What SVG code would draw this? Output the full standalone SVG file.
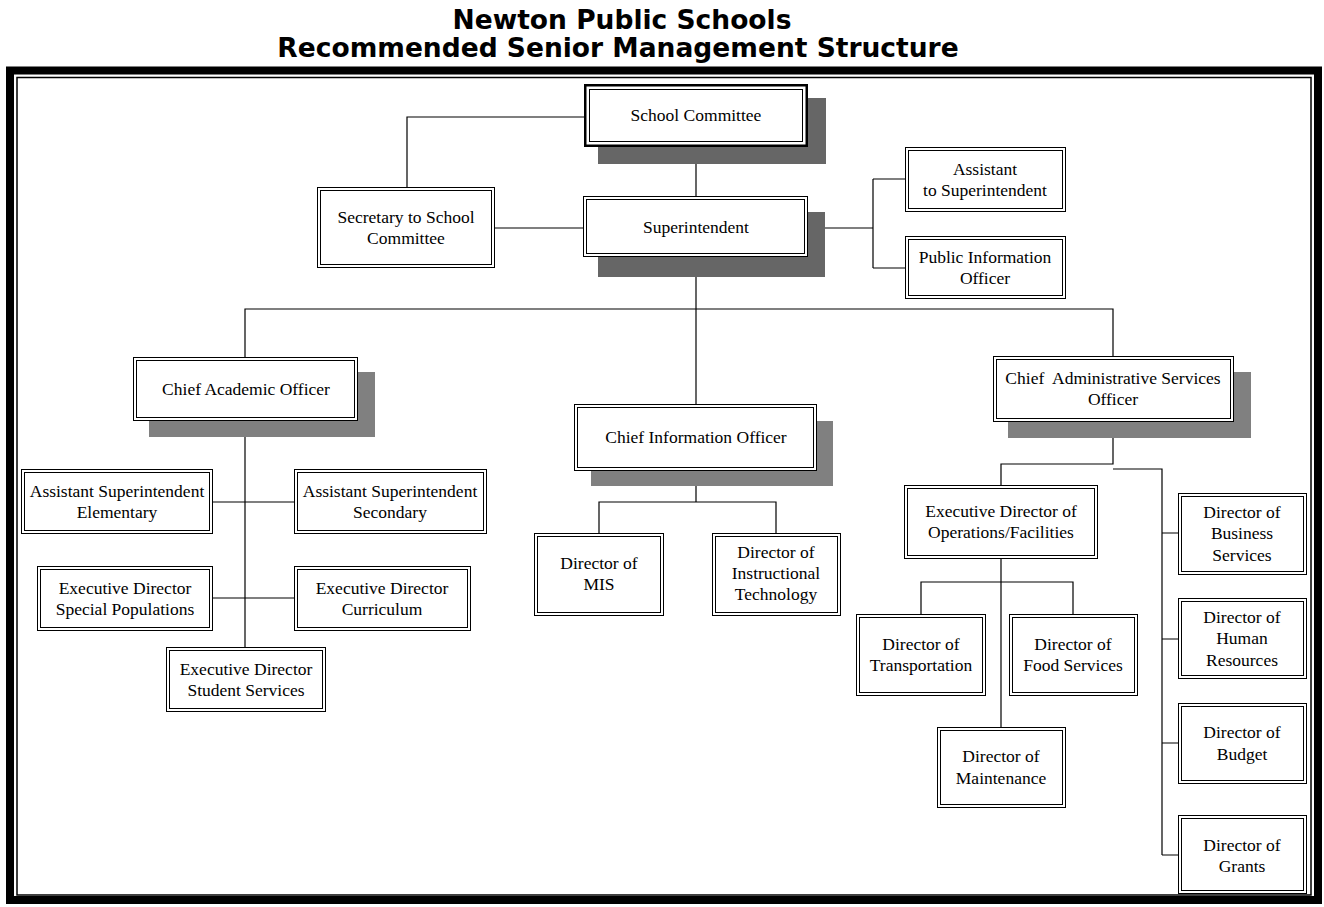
<svg xmlns="http://www.w3.org/2000/svg" width="1324" height="907" viewBox="0 0 1324 907">
<style>
.title{font-family:"DejaVu Sans",Verdana,sans-serif;font-weight:bold;font-size:26.5px;fill:#000;text-anchor:middle}
.lbl{font-family:"Liberation Serif","Times New Roman",serif;font-size:17.5px;fill:#000;text-anchor:middle}
.o{fill:#fff;stroke:#000;stroke-width:1}
.i{fill:none;stroke:#000;stroke-width:1}
.sh1{fill:#666}
.sh2{fill:#808080}
.c{fill:none;stroke:#000;stroke-width:1.2}
</style>
<rect width="1324" height="907" fill="#fff"/>
<text class="title" x="622" y="29">Newton Public Schools</text>
<text class="title" x="618" y="57">Recommended Senior Management Structure</text>
<g id="frame">
<rect x="10" y="70.5" width="1308" height="829.5" fill="none" stroke="#000" stroke-width="8"/>
<rect x="17" y="77.5" width="1294" height="817.5" fill="none" stroke="#000" stroke-width="1.5"/>
</g>
<g id="connectors">
<path class="c" d="M407 187V117H584"/>
<path class="c" d="M696 147V196"/>
<path class="c" d="M495 228H583"/>
<path class="c" d="M808 228H873M873 179V268M873 179H905M873 268H905"/>
<path class="c" d="M696 257V404"/>
<path class="c" d="M245 357V309H1113V356"/>
<path class="c" d="M245 421V647"/>
<path class="c" d="M213 502H294M213 598H294"/>
<path class="c" d="M696 471V502M599 533V502H776V533"/>
<path class="c" d="M1113 422V464H1001V485"/>
<path class="c" d="M1113 469H1162V855M1162 533H1178M1162 639H1178M1162 743H1178M1162 855H1178"/>
<path class="c" d="M1001 559V727M921 614V582H1073V614"/>
</g>
<g id="school-committee">
<rect class="sh1" x="598" y="98" width="228" height="66"/>
<rect x="585.25" y="85.25" width="221.5" height="60.5" fill="#fff" stroke="#000" stroke-width="2.5"/>
<rect class="i" x="589.5" y="89.5" width="213" height="52"/>
<text class="lbl" x="696" y="121">School Committee</text>
</g>
<g id="superintendent">
<rect class="sh1" x="598" y="212" width="227" height="65"/>
<rect class="o" x="583.5" y="196.5" width="224" height="60"/>
<rect class="i" x="586.5" y="199.5" width="218" height="54"/>
<text class="lbl" x="696" y="233">Superintendent</text>
</g>
<g id="secretary">
<rect class="o" x="317.5" y="187.5" width="177" height="80"/>
<rect class="i" x="320.5" y="190.5" width="171" height="74"/>
<text class="lbl" x="406" y="223">Secretary to School</text>
<text class="lbl" x="406" y="244">Committee</text>
</g>
<g id="assistant-to-superintendent">
<rect class="o" x="905.5" y="147.5" width="160" height="64"/>
<rect class="i" x="908.5" y="150.5" width="154" height="58"/>
<text class="lbl" x="985" y="175">Assistant</text>
<text class="lbl" x="985" y="196">to Superintendent</text>
</g>
<g id="public-information-officer">
<rect class="o" x="905.5" y="236.5" width="160" height="62"/>
<rect class="i" x="908.5" y="239.5" width="154" height="56"/>
<text class="lbl" x="985" y="263">Public Information</text>
<text class="lbl" x="985" y="284">Officer</text>
</g>
<g id="chief-academic-officer">
<rect class="sh2" x="149" y="372" width="226" height="65"/>
<rect class="o" x="133.5" y="357.5" width="224" height="63"/>
<rect class="i" x="136.5" y="360.5" width="218" height="57"/>
<text class="lbl" x="246" y="395">Chief Academic Officer</text>
</g>
<g id="chief-information-officer">
<rect class="sh2" x="591" y="421" width="242" height="65"/>
<rect class="o" x="574.5" y="404.5" width="242" height="66"/>
<rect class="i" x="577.5" y="407.5" width="236" height="60"/>
<text class="lbl" x="696" y="443">Chief Information Officer</text>
</g>
<g id="chief-administrative-services-officer">
<rect class="sh2" x="1008" y="372" width="243" height="66"/>
<rect class="o" x="993.5" y="356.5" width="240" height="65"/>
<rect class="i" x="996.5" y="359.5" width="234" height="59"/>
<text class="lbl" x="1113" y="384" xml:space="preserve">Chief  Administrative Services</text>
<text class="lbl" x="1113" y="405">Officer</text>
</g>
<g id="asst-supt-elementary">
<rect class="o" x="21.5" y="469.5" width="191" height="64"/>
<rect class="i" x="24.5" y="472.5" width="185" height="58"/>
<text class="lbl" x="117" y="497">Assistant Superintendent</text>
<text class="lbl" x="117" y="518">Elementary</text>
</g>
<g id="asst-supt-secondary">
<rect class="o" x="294.5" y="469.5" width="192" height="64"/>
<rect class="i" x="297.5" y="472.5" width="186" height="58"/>
<text class="lbl" x="390" y="497">Assistant Superintendent</text>
<text class="lbl" x="390" y="518">Secondary</text>
</g>
<g id="exec-dir-special-populations">
<rect class="o" x="37.5" y="566.5" width="175" height="64"/>
<rect class="i" x="40.5" y="569.5" width="169" height="58"/>
<text class="lbl" x="125" y="594">Executive Director</text>
<text class="lbl" x="125" y="615">Special Populations</text>
</g>
<g id="exec-dir-curriculum">
<rect class="o" x="294.5" y="566.5" width="176" height="64"/>
<rect class="i" x="297.5" y="569.5" width="170" height="58"/>
<text class="lbl" x="382" y="594">Executive Director</text>
<text class="lbl" x="382" y="615">Curriculum</text>
</g>
<g id="exec-dir-student-services">
<rect class="o" x="166.5" y="647.5" width="159" height="64"/>
<rect class="i" x="169.5" y="650.5" width="153" height="58"/>
<text class="lbl" x="246" y="675">Executive Director</text>
<text class="lbl" x="246" y="696">Student Services</text>
</g>
<g id="director-mis">
<rect class="o" x="534.5" y="533.5" width="129" height="82"/>
<rect class="i" x="537.5" y="536.5" width="123" height="76"/>
<text class="lbl" x="599" y="569">Director of</text>
<text class="lbl" x="599" y="590">MIS</text>
</g>
<g id="director-instructional-technology">
<rect class="o" x="712.5" y="533.5" width="128" height="82"/>
<rect class="i" x="715.5" y="536.5" width="122" height="76"/>
<text class="lbl" x="776" y="558">Director of</text>
<text class="lbl" x="776" y="579">Instructional</text>
<text class="lbl" x="776" y="600">Technology</text>
</g>
<g id="exec-dir-operations-facilities">
<rect class="o" x="904.5" y="485.5" width="193" height="73"/>
<rect class="i" x="907.5" y="488.5" width="187" height="67"/>
<text class="lbl" x="1001" y="517">Executive Director of</text>
<text class="lbl" x="1001" y="538">Operations/Facilities</text>
</g>
<g id="director-transportation">
<rect class="o" x="856.5" y="614.5" width="129" height="81"/>
<rect class="i" x="859.5" y="617.5" width="123" height="75"/>
<text class="lbl" x="921" y="650">Director of</text>
<text class="lbl" x="921" y="671">Transportation</text>
</g>
<g id="director-food-services">
<rect class="o" x="1009.5" y="614.5" width="128" height="81"/>
<rect class="i" x="1012.5" y="617.5" width="122" height="75"/>
<text class="lbl" x="1073" y="650">Director of</text>
<text class="lbl" x="1073" y="671">Food Services</text>
</g>
<g id="director-maintenance">
<rect class="o" x="937.5" y="727.5" width="128" height="80"/>
<rect class="i" x="940.5" y="730.5" width="122" height="74"/>
<text class="lbl" x="1001" y="762">Director of</text>
<text class="lbl" x="1001" y="784">Maintenance</text>
</g>
<g id="director-business-services">
<rect class="o" x="1178.5" y="493.5" width="128" height="81"/>
<rect class="i" x="1181.5" y="496.5" width="122" height="75"/>
<text class="lbl" x="1242" y="518">Director of</text>
<text class="lbl" x="1242" y="539">Business</text>
<text class="lbl" x="1242" y="561">Services</text>
</g>
<g id="director-human-resources">
<rect class="o" x="1178.5" y="598.5" width="128" height="80"/>
<rect class="i" x="1181.5" y="601.5" width="122" height="74"/>
<text class="lbl" x="1242" y="623">Director of</text>
<text class="lbl" x="1242" y="644">Human</text>
<text class="lbl" x="1242" y="666">Resources</text>
</g>
<g id="director-budget">
<rect class="o" x="1178.5" y="703.5" width="128" height="80"/>
<rect class="i" x="1181.5" y="706.5" width="122" height="74"/>
<text class="lbl" x="1242" y="738">Director of</text>
<text class="lbl" x="1242" y="760">Budget</text>
</g>
<g id="director-grants">
<rect class="o" x="1178.5" y="815.5" width="128" height="78"/>
<rect class="i" x="1181.5" y="818.5" width="122" height="72"/>
<text class="lbl" x="1242" y="851">Director of</text>
<text class="lbl" x="1242" y="872">Grants</text>
</g>
</svg>
